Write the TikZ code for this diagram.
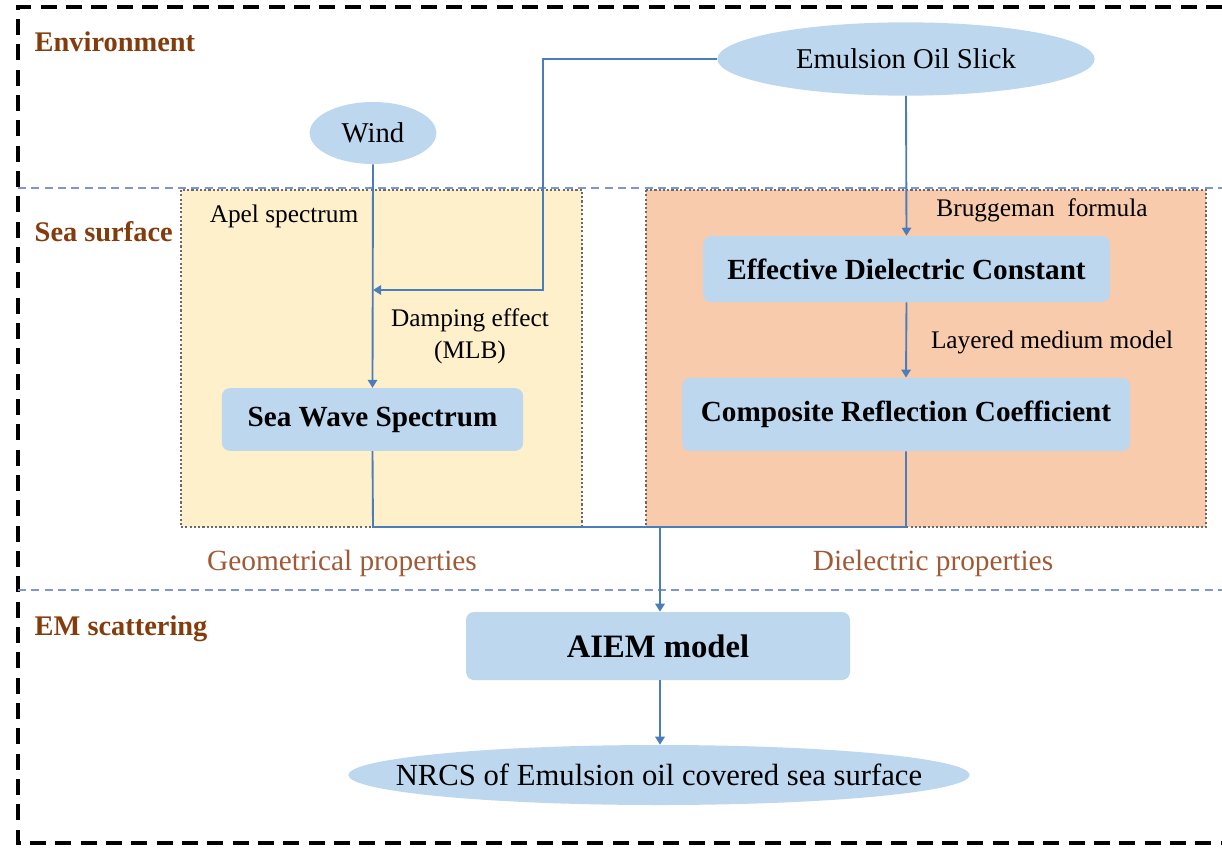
\documentclass[tikz,border=0pt]{standalone}
\usepackage{fontspec}
\setmainfont{Liberation Serif}
\usetikzlibrary{arrows.meta,shapes.geometric}

\definecolor{boxblue}{RGB}{189,215,238}
\definecolor{linkblue}{RGB}{74,126,187}
\definecolor{sepblue}{RGB}{128,150,208}
\definecolor{geofill}{RGB}{255,240,204}
\definecolor{dielfill}{RGB}{248,203,173}
\definecolor{rimgrey}{RGB}{105,105,105}
\definecolor{zonebrown}{RGB}{132,60,12}
\definecolor{propbrown}{RGB}{160,90,55}

\tikzset{
  fs/.style={font=\fontsize{#1}{24}\selectfont},
  blob/.style={ellipse, fill=boxblue, inner xsep=-80pt, inner ysep=0pt, fs=21.5},
  stage/.style={rounded corners=6pt, fill=boxblue, inner sep=0pt,
                font=\bfseries\fontsize{21.9}{26}\selectfont},
  link/.style={draw=linkblue, line width=1.4pt},
  flow/.style={link, -{Triangle[width=7pt,length=6pt]}},
  zone/.style={anchor=west, text=zonebrown, font=\bfseries\fontsize{21.3}{25}\selectfont},
  note/.style={fs=19},
  prop/.style={text=propbrown, fs=22},
  panel/.style={draw=rimgrey, line width=1.1pt, dash pattern=on 1.6pt off 1.6pt},
  divider/.style={draw=sepblue, line width=1.1pt, dash pattern=on 6pt off 4pt}
}

\begin{document}
\begin{tikzpicture}[x=0.75pt,y=-0.75pt]
\useasboundingbox (0,0) rectangle (1222,847);

% outer frame
\draw[black, line width=3pt, dash pattern=on 12pt off 7pt]
  (1222,7) -- (18,7) -- (18,843) -- (1222,843);

% layer dividers
\draw[divider] (18,188) -- (1222,188);
\draw[divider] (18,590) -- (1222,590);

% property panels
\path[panel, fill=geofill] (181,190) rectangle (582,527);
\path[panel, fill=dielfill] (646,190) rectangle (1206,527);

% layer titles
\node[zone] (env) at (30,42) {Environment};
\node[zone] (sea) at (30,232) {Sea surface};
\node[zone] (em)  at (30,629) {EM scattering};

% nodes
\node[blob, minimum width=95pt, minimum height=46.5pt] (wind) at (373,133) {Wind};
\node[blob, minimum width=283pt, minimum height=55pt] (oil) at (906,59) {Emulsion Oil Slick};
\node[stage, minimum width=226pt, minimum height=47pt] (sws) at (372.5,419.5) {Sea Wave Spectrum};
\node[stage, minimum width=305pt, minimum height=49.5pt] (edc) at (906.5,269) {Effective Dielectric Constant};
\node[stage, minimum width=336pt, minimum height=55pt] (crc) at (906,414.5) {Composite Reflection Coefficient};
\node[stage, minimum width=288pt, minimum height=51pt, font=\bfseries\fontsize{24.5}{28}\selectfont] (aiem) at (658,646) {AIEM model};
\node[blob, minimum width=466pt, minimum height=45pt, fs=23] (nrcs) at (659,775) {NRCS of Emulsion oil covered sea surface};

% annotations
\node[note] (apel) at (284,216) {Apel spectrum};
\node[note, align=center] (damp) at (470,336) {Damping effect\\(MLB)};
\node[note] (brug) at (1042,210) {Bruggeman~ formula};
\node[note] (layer) at (1052,342) {Layered medium model};
\node[prop] (geo) at (342,563) {Geometrical properties};
\node[prop] (diel) at (933,563) {Dielectric properties};

% connectors
\coordinate (damppt) at (373,290);
\coordinate (merge) at (660,527);
\draw[flow] (wind.south) -- (sws.north);
\draw[flow] (oil.west) -- (543,59) -- (543,290) -- (damppt);
\draw[flow] (oil.south) -- (edc.north);
\draw[flow] (edc.south) -- (crc.north);
\draw[link] (sws.south) -- (373,527) -- (906,527) -- (crc.south);
\draw[flow] (merge) -- (aiem.north -| merge);
\draw[flow] (aiem.south -| merge) -- (nrcs.north -| merge);
\end{tikzpicture}
\end{document}
